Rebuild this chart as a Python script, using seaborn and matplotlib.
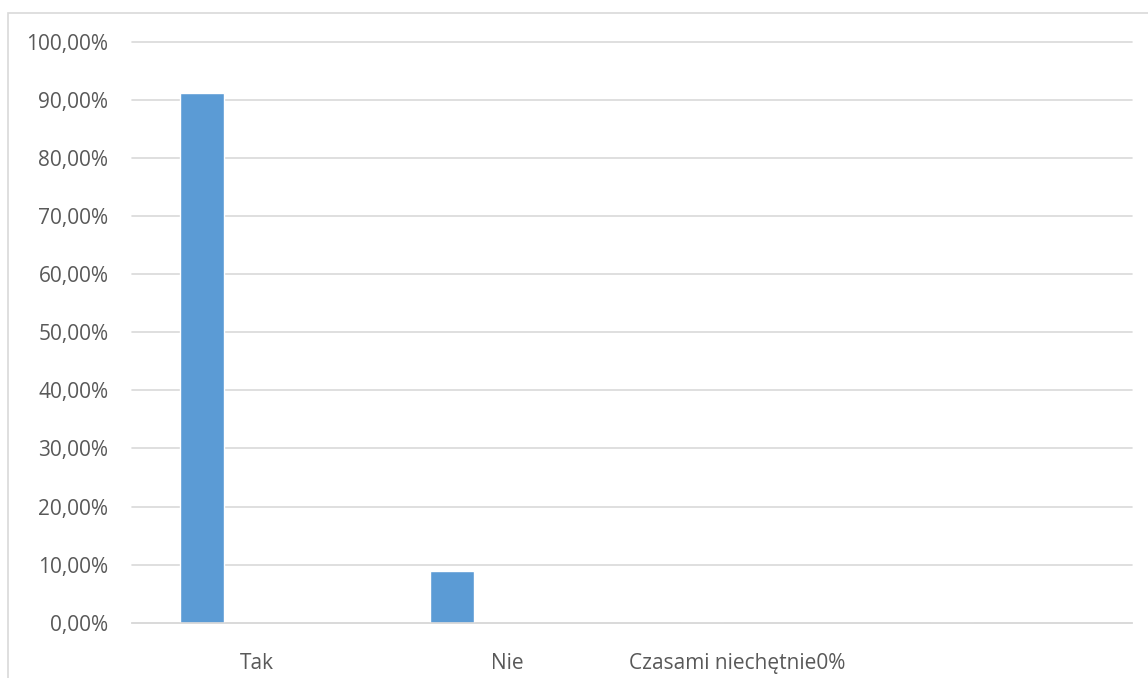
"""Excel-style single-series bar chart: share of answers (Tak / Nie / Czasami niechętnie)."""

import matplotlib

matplotlib.use("Agg")
import matplotlib.pyplot as plt
import matplotlib.transforms as mtransforms
import numpy as np
import pandas as pd
import seaborn as sns
from matplotlib.patches import Rectangle

CATEGORIES = ["Tak", "Nie", "Czasami niechętnie0%", ""]
SHARES = [91.18, 8.82, 0.0, 0.0]
Y_TICKS = [0, 10, 20, 30, 40, 50, 60, 70, 80, 90, 100]

BAR_COLOR = "#5B9BD5"
GRID_COLOR = "#D9D9D9"
TEXT_COLOR = "#595959"

sns.set_theme(style="white")
plt.rcParams["font.family"] = ["Open Sans", "DejaVu Sans"]

df = pd.DataFrame({"answer": CATEGORIES, "share": SHARES})

fig = plt.figure(figsize=(11.48, 6.78), dpi=100)
ax = fig.add_axes([132 / 1148, 1 - 622.7 / 678, 1000 / 1148, (622.7 - 42) / 678])

sns.barplot(data=df, x="answer", y="share", order=CATEGORIES, color=BAR_COLOR,
            saturation=1, width=0.176, ax=ax)

# Excel draws the bar left of the category centre; labels sit in the middle of each slot
ax.set_xlim(-0.28, 3.72)
ax.set_xticks(np.arange(len(CATEGORIES)) + 0.22)
ax.set_xticklabels(CATEGORIES)
ax.set_ylim(0, 100)
ax.set_yticks(Y_TICKS)
ax.set_yticklabels([f"{v:.2f}%".replace(".", ",") for v in Y_TICKS])

ax.set_xlabel("")
ax.set_ylabel("")
ax.yaxis.grid(True, color=GRID_COLOR, linewidth=1.2)
for line in ax.get_ygridlines():
    line.set_clip_on(False)
ax.set_axisbelow(True)
for side in ("top", "right", "left"):
    ax.spines[side].set_visible(False)
ax.spines["bottom"].set_color(GRID_COLOR)
ax.spines["bottom"].set_linewidth(1.2)
ax.tick_params(axis="y", length=0, pad=17, labelsize=15, labelcolor=TEXT_COLOR)
ax.tick_params(axis="x", length=0, pad=22, labelsize=15, labelcolor=TEXT_COLOR)

# the long label is drawn a little left of its slot centre in the reference
long_label = ax.get_xticklabels()[2]
long_label.set_transform(long_label.get_transform()
                         + mtransforms.ScaledTranslation(-0.2, 0, fig.dpi_scale_trans))

# chart-area frame, partly cropped in the reference
fig.patches.append(Rectangle((8 / 1148, -0.1), 1.2, 1 - 13 / 678 + 0.1,
                             transform=fig.transFigure, fill=False,
                             edgecolor=GRID_COLOR, linewidth=1.2))

fig.savefig("out.png", dpi=100)
